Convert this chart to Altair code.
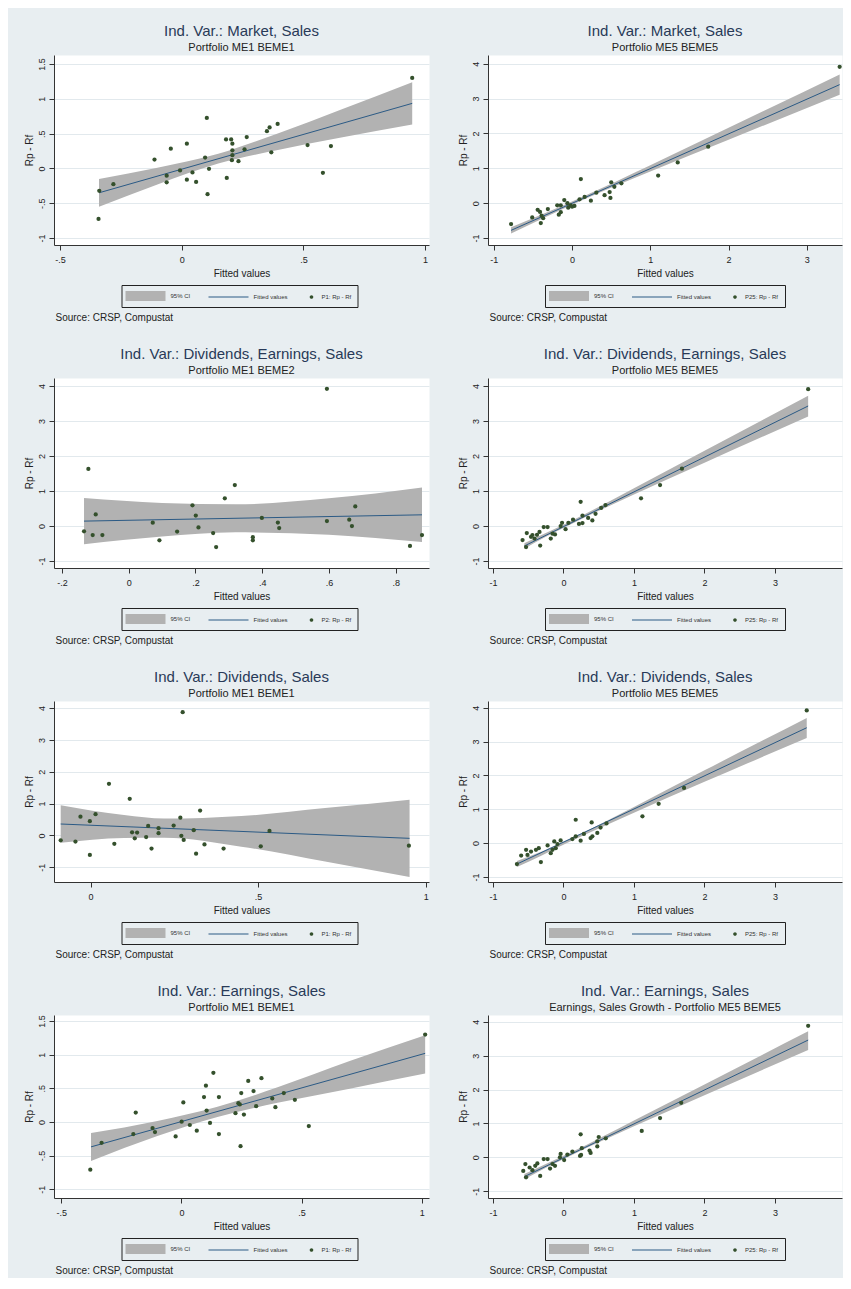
import altair as alt
import pandas as pd

# ---------------- colours / fonts ----------------
BG = "#e8eef1"
FONT = "Liberation Sans"
CI_COLOR = "#b2b2b2"
LINE_COLOR = "#2b5a85"
PT_COLOR = "#34502c"
TITLE_COLOR = "#283a58"
TEXT_COLOR = "#222222"

# ---------------- texts ----------------
titles = [
    "Ind. Var.: Market, Sales", "Ind. Var.: Market, Sales",
    "Ind. Var.: Dividends, Earnings, Sales", "Ind. Var.: Dividends, Earnings, Sales",
    "Ind. Var.: Dividends, Sales", "Ind. Var.: Dividends, Sales",
    "Ind. Var.: Earnings, Sales", "Ind. Var.: Earnings, Sales",
]
subtitles = [
    "Portfolio ME1 BEME1", "Portfolio ME5 BEME5",
    "Portfolio ME1 BEME2", "Portfolio ME5 BEME5",
    "Portfolio ME1 BEME1", "Portfolio ME5 BEME5",
    "Portfolio ME1 BEME1", "Earnings, Sales Growth - Portfolio ME5 BEME5",
]
point_labels = ["P1: Rp - Rf", "P25: Rp - Rf", "P2: Rp - Rf", "P25: Rp - Rf",
                "P1: Rp - Rf", "P25: Rp - Rf", "P1: Rp - Rf", "P25: Rp - Rf"]
ci_label = "95% CI"
fit_label = "Fitted values"
x_title = "Fitted values"
y_title = "Rp - Rf"
note = "Source: CRSP, Compustat"

# ---------------- axes ----------------
x_domains = [[-0.525, 1.016], [-1.075, 3.45], [-0.224, 0.90], [-1.07, 3.95],
             [-0.109, 1.01], [-1.07, 3.95], [-0.53, 1.03], [-1.07, 3.95]]
y_domains = [[-1.10, 1.63], [-1.2, 4.25], [-1.2, 4.23], [-1.2, 4.23],
             [-1.46, 4.22], [-1.15, 4.2], [-1.13, 1.59], [-1.2, 4.2]]
x_ticks = [[-0.5, 0, 0.5, 1], [-1, 0, 1, 2, 3], [-0.2, 0, 0.2, 0.4, 0.6, 0.8], [-1, 0, 1, 2, 3],
           [0, 0.5, 1], [-1, 0, 1, 2, 3], [-0.5, 0, 0.5, 1], [-1, 0, 1, 2, 3]]
y_ticks_small = [-1, -0.5, 0, 0.5, 1, 1.5]
y_ticks_big = [-1, 0, 1, 2, 3, 4]
y_ticks = [y_ticks_small, y_ticks_big, y_ticks_big, y_ticks_big,
           y_ticks_big, y_ticks_big, y_ticks_small, y_ticks_big]

# ---------------- scatter points ----------------
p1_x = [0.947, 0.103, 0.394, 0.361, 0.35, 0.267, 0.182, 0.203, 0.208, 0.021, -0.045, 0.258, 0.208, 0.208,
        0.368, 0.517, 0.613, -0.112, 0.096, 0.206, 0.233, 0.112, -0.007, 0.044, -0.062, -0.062, 0.021,
        0.059, 0.185, 0.58, -0.281, -0.339, 0.106, -0.342]
p1_y = [1.30, 0.725, 0.64, 0.59, 0.535, 0.45, 0.417, 0.417, 0.355, 0.355, 0.284, 0.275, 0.26, 0.19,
        0.232, 0.336, 0.322, 0.128, 0.156, 0.118, 0.104, -0.005, -0.028, -0.057, -0.104, -0.199, -0.161,
        -0.194, -0.137, -0.062, -0.227, -0.322, -0.37, -0.725]

p2_x = [3.42, 1.74, 1.35, 1.10, 0.112, 0.63, 0.50, 0.54, 0.48, 0.415, 0.49, 0.31, 0.24, 0.16, 0.095,
        -0.02, 0.0, -0.06, -0.10, -0.145, -0.19, -0.145, -0.17, -0.31, -0.41, -0.44, -0.39, -0.37, -0.40,
        -0.51, -0.78, -0.05, 0.03]
p2_y = [3.91, 1.62, 1.17, 0.79, 0.69, 0.57, 0.60, 0.47, 0.32, 0.23, 0.15, 0.30, 0.07, 0.18, 0.11,
        -0.06, -0.10, 0.0, 0.09, -0.06, -0.06, -0.26, -0.33, -0.17, -0.25, -0.19, -0.36, -0.43, -0.57,
        -0.41, -0.60, -0.13, -0.08]

p3_x = [0.594, -0.121, 0.318, 0.288, 0.191, 0.679, -0.099, 0.201, 0.399, 0.072, 0.447, 0.594, 0.661,
        0.669, -0.134, 0.145, 0.209, 0.451, -0.108, -0.079, 0.253, 0.372, 0.372, 0.092, 0.262, 0.843, 0.879]
p3_y = [3.92, 1.63, 1.17, 0.79, 0.59, 0.56, 0.33, 0.30, 0.23, 0.094, 0.10, 0.14, 0.18,
        0.00, -0.15, -0.16, -0.04, -0.06, -0.26, -0.26, -0.20, -0.32, -0.41, -0.41, -0.60, -0.57, -0.26]

p4_x = [3.47, 1.68, 1.37, 1.10, 0.244, 0.596, 0.535, 0.455, 0.41, 0.35, 0.27, 0.22, 0.27, 0.136, 0.07,
        -0.02, -0.04, 0.03, -0.155, -0.18, -0.225, -0.28, -0.34, -0.375, -0.41, -0.46, -0.52, -0.33,
        -0.58, -0.53, -0.44, -0.12]
p4_y = [3.91, 1.64, 1.17, 0.79, 0.69, 0.60, 0.52, 0.35, 0.16, 0.23, 0.085, 0.06, 0.30, 0.18, 0.09,
        0.09, 0.0, -0.09, -0.22, -0.36, -0.03, -0.03, -0.17, -0.25, -0.36, -0.31, -0.20, -0.56,
        -0.40, -0.60, -0.26, -0.24]

p5_x = [0.275, 0.055, 0.117, 0.327, 0.015, 0.268, -0.03, -0.002, 0.248, 0.172, 0.203, 0.308, 0.534,
        0.124, 0.139, 0.203, 0.271, 0.166, 0.132, 0.278, -0.089, -0.045, 0.071, 0.34, 0.182, 0.397,
        0.508, 0.315, -0.002, 0.95]
p5_y = [3.87, 1.62, 1.15, 0.78, 0.67, 0.56, 0.59, 0.45, 0.31, 0.30, 0.23, 0.165, 0.144,
        0.10, 0.09, 0.07, -0.01, -0.05, -0.09, -0.14, -0.15, -0.19, -0.26, -0.28, -0.41, -0.41,
        -0.34, -0.57, -0.61, -0.32]

p6_x = [3.45, 1.71, 1.35, 1.12, 0.174, 0.40, 0.61, 0.526, 0.48, 0.41, 0.385, 0.244, 0.29, 0.174, 0.127,
        -0.04, -0.085, -0.13, -0.11, -0.18, -0.155, -0.225, -0.35, -0.39, -0.46, -0.53, -0.51, -0.32,
        -0.66, -0.60]
p6_y = [3.92, 1.63, 1.16, 0.79, 0.69, 0.61, 0.58, 0.46, 0.30, 0.20, 0.15, 0.07, 0.27, 0.20, 0.12,
        0.08, -0.03, 0.05, -0.15, -0.30, -0.20, -0.07, -0.15, -0.20, -0.25, -0.20, -0.35, -0.56,
        -0.62, -0.37]

p7_x = [1.014, 0.133, 0.333, 0.278, 0.102, 0.30, 0.426, 0.249, 0.094, 0.156, 0.378, 0.472, 0.008,
        0.237, 0.243, 0.311, 0.391, -0.19, 0.105, 0.225, 0.26, 0.001, 0.119, 0.035, -0.12, -0.11,
        0.064, -0.20, -0.024, 0.156, 0.53, -0.332, 0.246, -0.379]
p7_y = [1.30, 0.73, 0.65, 0.61, 0.54, 0.46, 0.43, 0.43, 0.37, 0.37, 0.35, 0.33, 0.29,
        0.28, 0.26, 0.235, 0.22, 0.14, 0.17, 0.13, 0.11, 0.005, -0.015, -0.045, -0.09, -0.15,
        -0.13, -0.18, -0.215, -0.18, -0.06, -0.31, -0.36, -0.71]

p8_x = [3.47, 1.67, 1.37, 1.11, 0.244, 0.50, 0.60, 0.48, 0.48, 0.37, 0.385, 0.25, 0.235, 0.26, 0.127,
        0.056, -0.04, -0.05, 0.01, -0.155, -0.19, -0.225, -0.28, -0.37, -0.40, -0.44, -0.48, -0.54,
        -0.33, -0.57, -0.53, -0.12]
p8_y = [3.88, 1.61, 1.16, 0.78, 0.68, 0.60, 0.56, 0.47, 0.32, 0.20, 0.13, 0.07, 0.04, 0.27, 0.17,
        0.08, 0.10, 0.0, -0.08, -0.20, -0.33, -0.05, -0.05, -0.18, -0.25, -0.38, -0.30, -0.20,
        -0.55, -0.40, -0.59, -0.25]

# ---------------- 95% CI bands (read at a few x positions) ----------------
b1_x = [-0.34, -0.1, 0.15, 0.4, 0.65, 0.947]
b1_lo = [-0.55, -0.23, 0.07, 0.27, 0.44, 0.63]
b1_hi = [-0.15, 0.01, 0.21, 0.51, 0.84, 1.24]
b2_x = [-0.78, -0.35, 0.1, 1.0, 2.0, 3.42]
b2_lo = [-0.87, -0.41, 0.055, 0.905, 1.82, 3.11]
b2_hi = [-0.69, -0.29, 0.145, 1.085, 2.16, 3.69]
b3_x = [-0.134, 0.1, 0.32, 0.6, 0.879]
b3_lo = [-0.52, -0.30, -0.18, -0.25, -0.46]
b3_hi = [0.80, 0.66, 0.62, 0.79, 1.10]
b4_x = [-0.554, -0.25, 0.1, 1.0, 2.0, 3.47]
b4_lo = [-0.65, -0.31, 0.045, 0.90, 1.81, 3.13]
b4_hi = [-0.49, -0.20, 0.135, 1.08, 2.15, 3.72]
b5_x = [-0.089, 0.1, 0.22, 0.45, 0.7, 0.952]
b5_lo = [-0.23, -0.08, -0.07, -0.35, -0.82, -1.30]
b5_hi = [0.95, 0.64, 0.53, 0.61, 0.86, 1.12]
b6_x = [-0.66, -0.3, 0.05, 1.0, 2.0, 3.45]
b6_lo = [-0.71, -0.36, 0.0, 0.90, 1.81, 3.11]
b6_hi = [-0.53, -0.24, 0.09, 1.07, 2.15, 3.70]
b7_x = [-0.376, -0.1, 0.15, 0.4, 0.7, 1.014]
b7_lo = [-0.58, -0.21, 0.075, 0.285, 0.495, 0.72]
b7_hi = [-0.165, 0.015, 0.225, 0.515, 0.905, 1.29]
b8_x = [-0.554, -0.25, 0.1, 1.0, 2.0, 3.47]
b8_lo = [-0.65, -0.31, 0.05, 0.915, 1.83, 3.17]
b8_hi = [-0.49, -0.20, 0.14, 1.09, 2.15, 3.72]

# ---------------- fitted lines (end points) ----------------
l1_x, l1_y = [-0.34, 0.947], [-0.35, 0.935]
l2_x, l2_y = [-0.78, 3.42], [-0.78, 3.40]
l3_x, l3_y = [-0.134, 0.879], [0.14, 0.32]
l4_x, l4_y = [-0.554, 3.47], [-0.57, 3.43]
l5_x, l5_y = [-0.089, 0.952], [0.36, -0.09]
l6_x, l6_y = [-0.66, 3.45], [-0.62, 3.41]
l7_x, l7_y = [-0.376, 1.014], [-0.37, 1.02]
l8_x, l8_y = [-0.554, 3.47], [-0.57, 3.46]

pxs = [p1_x, p2_x, p3_x, p4_x, p5_x, p6_x, p7_x, p8_x]
pys = [p1_y, p2_y, p3_y, p4_y, p5_y, p6_y, p7_y, p8_y]
bxs = [b1_x, b2_x, b3_x, b4_x, b5_x, b6_x, b7_x, b8_x]
blos = [b1_lo, b2_lo, b3_lo, b4_lo, b5_lo, b6_lo, b7_lo, b8_lo]
bhis = [b1_hi, b2_hi, b3_hi, b4_hi, b5_hi, b6_hi, b7_hi, b8_hi]
lxs = [l1_x, l2_x, l3_x, l4_x, l5_x, l6_x, l7_x, l8_x]
lys = [l1_y, l2_y, l3_y, l4_y, l5_y, l6_y, l7_y, l8_y]

# ---------------- layout ----------------
W_LEFT, W_RIGHT = 375, 354
ROW_H = [190, 190, 181, 183]

LBL = "(datum.value < 0 ? '-' : '') + replace(format(abs(datum.value), '~g'), '0.', '.')"

# legend key shapes (unit paths; symbol size 100 -> 5 px per unit)
KEY_RECT = "M-7,-1H1V1H-7Z"
KEY_LINE = "M-7,-0.12H1V0.12H-7Z"
KEY_DOT = "M-0.36,0A0.36,0.36,0,1,1,0.36,0A0.36,0.36,0,1,1,-0.36,0Z"


def build_panel(i, W, H):
    band_df = pd.DataFrame({"x": bxs[i], "lo": blos[i], "hi": bhis[i]})
    line_df = pd.DataFrame({"x": lxs[i], "y": lys[i]})
    pt_df = pd.DataFrame({"x": pxs[i], "y": pys[i], "series": point_labels[i]})

    xs = alt.Scale(domain=x_domains[i], nice=False, zero=False)
    ys = alt.Scale(domain=y_domains[i], nice=False, zero=False)
    xax = alt.Axis(title=x_title, values=x_ticks[i], labelExpr=LBL, tickSize=5, labelPadding=5,
                   titlePadding=4, grid=False, labelFontSize=9, titleFontSize=10,
                   titleFontWeight="normal", labelFlush=False, labelOverlap=False)
    yax = alt.Axis(title=y_title, values=y_ticks[i], labelExpr=LBL, labelAngle=270,
                   labelAlign="center", labelBaseline="bottom", tickSize=5, labelPadding=3,
                   titlePadding=3, grid=True, gridColor="#e2e9ed", labelFontSize=9,
                   titleFontSize=10, titleFontWeight="normal", labelOverlap=False)
    dom = [ci_label, fit_label, point_labels[i]]
    leg = alt.Legend(
        orient="none", legendX=W / 2 - 120, legendY=H + 40, direction="horizontal",
        title="\u00a0", titleOrient="left", titleFontSize=6, titlePadding=28,
        fillColor=BG, strokeColor="#222222", padding=6,
        symbolSize=100, symbolStrokeWidth=0, symbolOffset=0, symbolOpacity=1,
        labelFont=FONT, labelFontSize=6, labelColor="#333333", labelLimit=120,
        labelOffset=5, columnPadding=18,
    )
    X = alt.X("x:Q", scale=xs, axis=xax)
    Y = alt.Y("y:Q", scale=ys, axis=yax)

    band = alt.Chart(band_df).mark_area(color=CI_COLOR, opacity=1, interpolate="monotone").encode(
        x=X, y=alt.Y("lo:Q", scale=ys, axis=yax), y2="hi:Q")
    line = alt.Chart(line_df).mark_line(color=LINE_COLOR, strokeWidth=1).encode(x=X, y=Y)
    pts = alt.Chart(pt_df).mark_circle(color=PT_COLOR, size=18, opacity=1).encode(x=X, y=Y)
    # legend-only layer: no row survives the filter, the key is drawn from the scale domains
    key = alt.Chart(pt_df).transform_filter("false").mark_point(filled=True, opacity=1, size=100).encode(
        x=X, y=Y,
        color=alt.Color("series:N", scale=alt.Scale(domain=dom, range=[CI_COLOR, LINE_COLOR, PT_COLOR]),
                        legend=leg),
        shape=alt.Shape("series:N", scale=alt.Scale(domain=dom, range=[KEY_RECT, KEY_LINE, KEY_DOT]),
                        legend=leg),
    )

    layer = alt.layer(band, line, pts, key).properties(
        width=W, height=H,
        title=alt.Title(titles[i], subtitle=subtitles[i], anchor="middle", frame="group",
                        fontSize=15, fontWeight="normal", font=FONT, color=TITLE_COLOR,
                        subtitleFontSize=11, subtitleFont=FONT, subtitleColor=TEXT_COLOR,
                        subtitlePadding=3, offset=2),
    )
    wrapped = alt.vconcat(
        layer,
        title=alt.Title(note, orient="bottom", anchor="start", frame="bounds", fontSize=10,
                        fontWeight="normal", font=FONT, color=TEXT_COLOR, offset=5, dx=32),
    ).resolve_scale(color="independent", shape="independent")
    return wrapped


rows = []
for r in range(4):
    left = build_panel(2 * r, W_LEFT, ROW_H[r])
    right = build_panel(2 * r + 1, W_RIGHT, ROW_H[r])
    rows.append(alt.hconcat(left, right, spacing=27).resolve_scale(color="independent",
                                                                    shape="independent"))

chart = alt.vconcat(*rows, spacing=23).resolve_scale(color="independent", shape="independent").properties(
    padding={"left": 15, "top": 15, "right": 0, "bottom": 2}
).configure(
    background=BG, font=FONT
).configure_view(
    fill="white", stroke="transparent"
).configure_axis(
    labelFont=FONT, titleFont=FONT, labelColor=TEXT_COLOR, titleColor=TEXT_COLOR,
    domainColor="#333333", tickColor="#333333", domainWidth=1, tickWidth=1
)

chart.save("out.html", embed_options={"renderer": "svg", "actions": False})
